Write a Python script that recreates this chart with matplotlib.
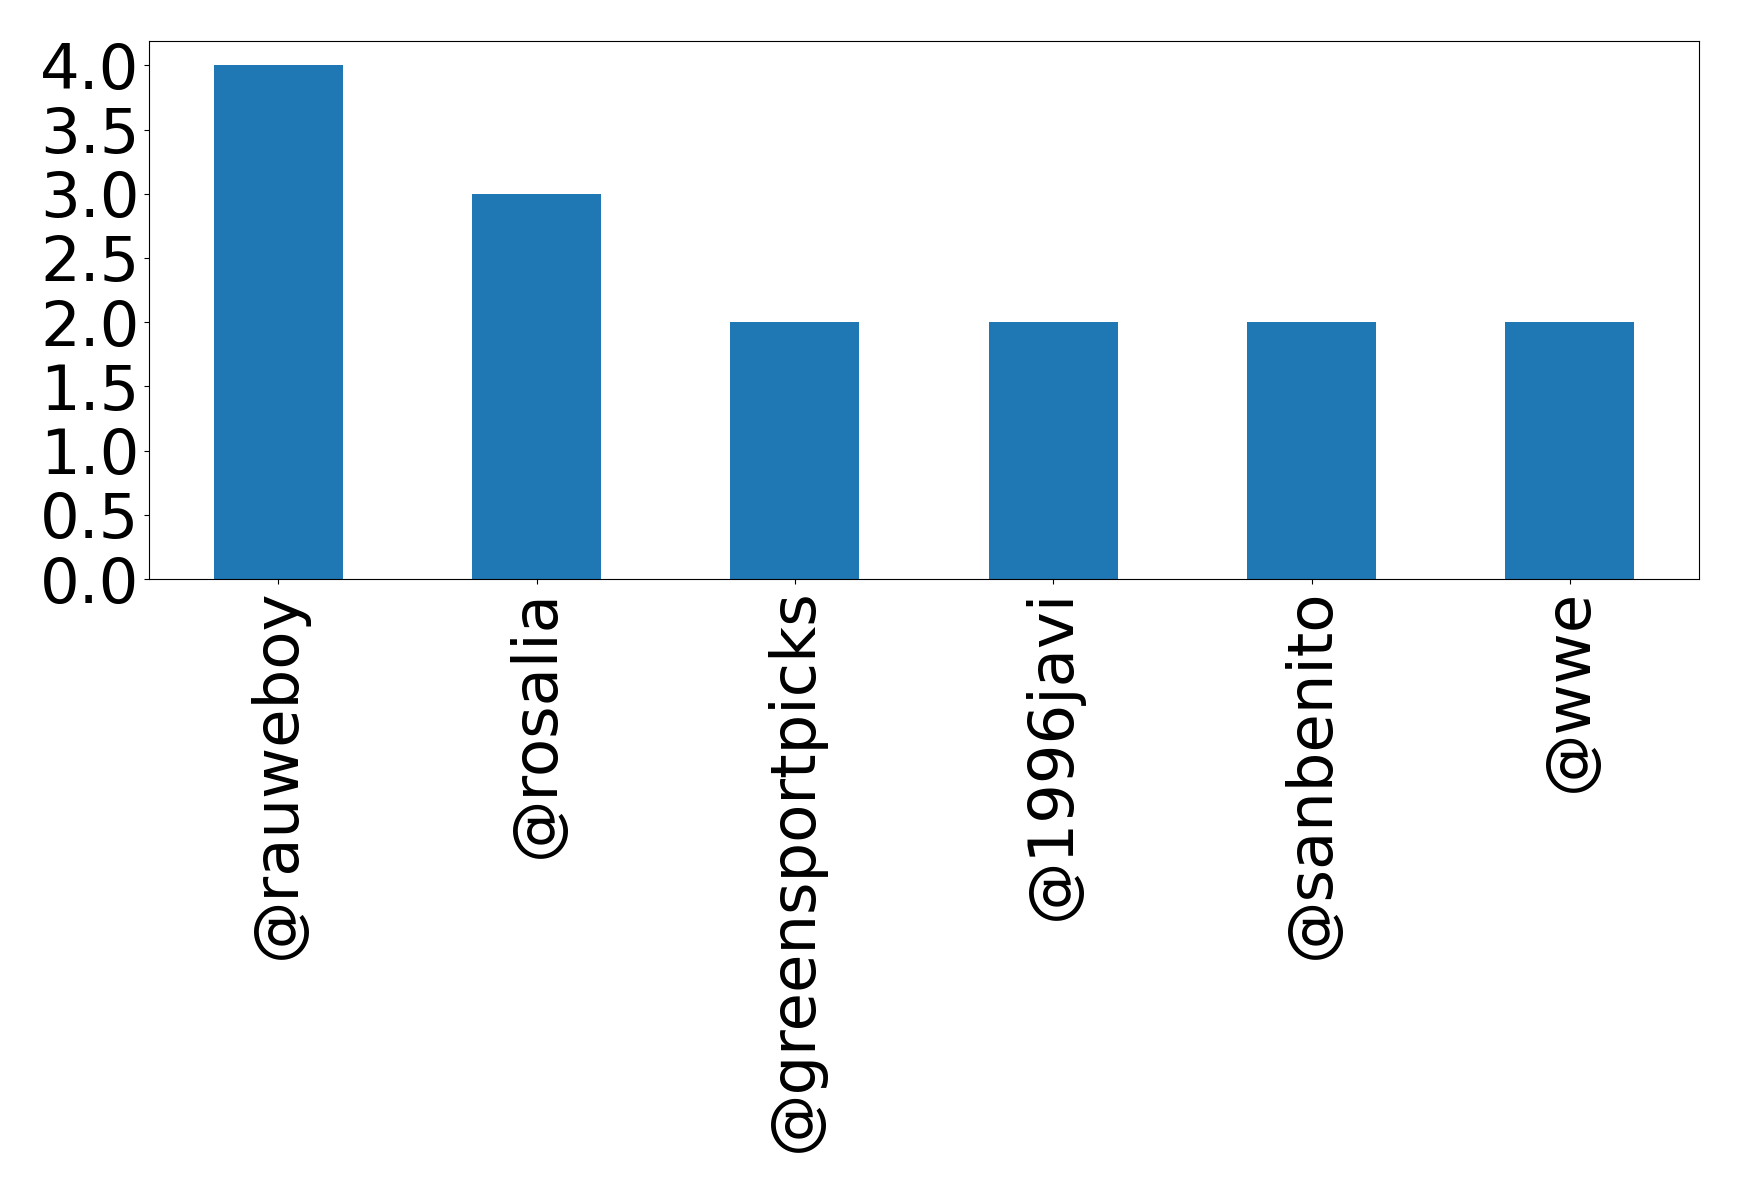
import matplotlib
matplotlib.use('Agg')
import matplotlib.pyplot as plt
import pandas as pd

# cuentas y número de menciones
cuentas = ['@rauweboy', '@rosalia', '@greensportpicks', '@1996javi', '@sanbenito', '@wwe']
menciones = [4, 3, 2, 2, 2, 2]

W, H = 1739, 1192
fig = plt.figure(figsize=(W / 100, H / 100), dpi=100)
ax = fig.add_axes([149 / W, 1 - 579 / H, (1699 - 149) / W, (579 - 41) / H])

serie = pd.Series(menciones, index=cuentas)
serie.plot(kind='bar', ax=ax, color='#1f77b4', width=0.5)

ax.tick_params(axis='both', labelsize=45)
ax.set_yticks([0.0, 0.5, 1.0, 1.5, 2.0, 2.5, 3.0, 3.5, 4.0])
ax.set_ylim(0, 4.19)
plt.setp(ax.get_xticklabels(), rotation=90)

fig.savefig('out.png', dpi=100)
plt.close()
